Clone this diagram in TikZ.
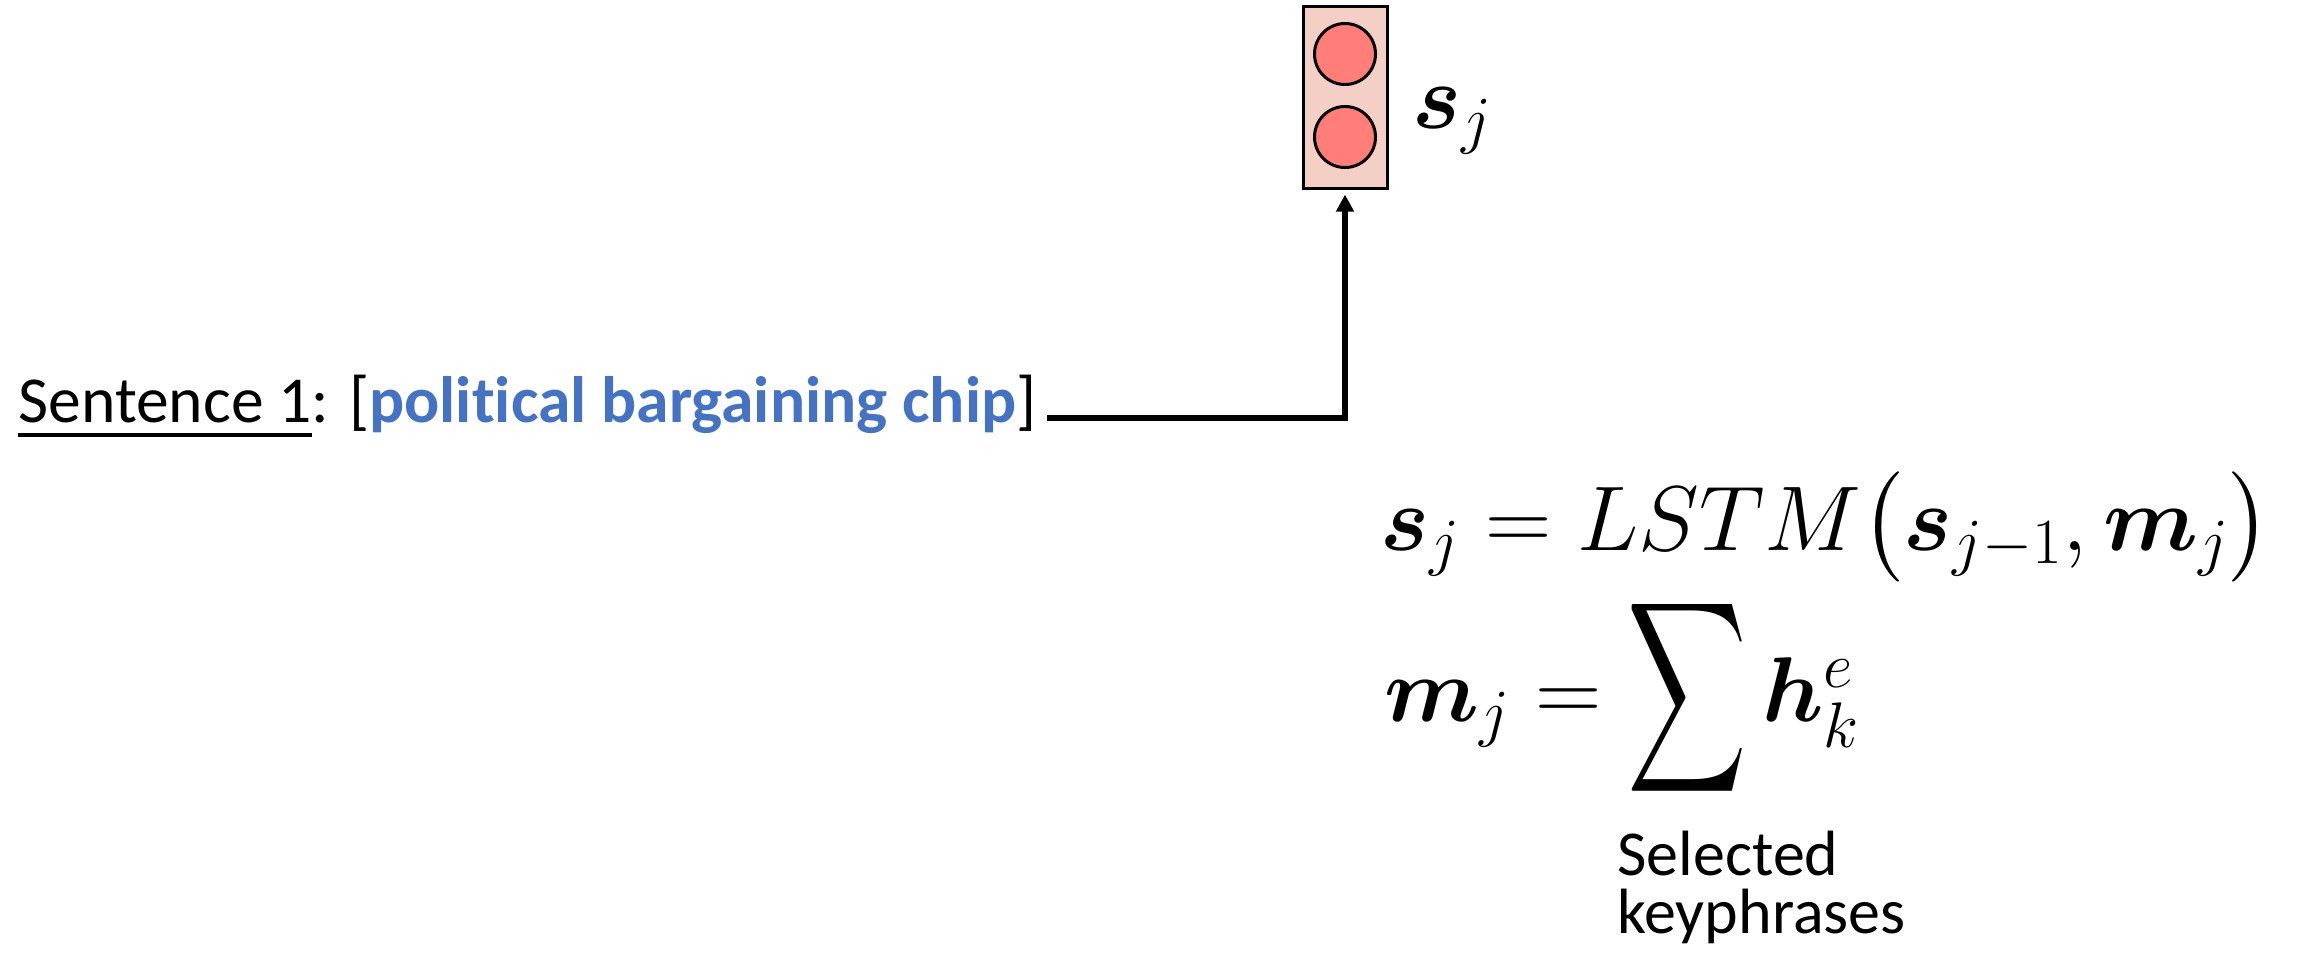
\RequirePackage{fix-cm}
\documentclass[tikz,border=0pt]{standalone}
\usepackage{fontspec}
\usepackage{bm}
\usepackage{graphicx}
\usetikzlibrary{arrows.meta}
\DeclareFontShape{OMX}{cmex}{m}{n}{<-> cmex10}{}
\newfontfamily\calib[Ligatures=NoCommon]{Carlito}
\definecolor{boxfill}{RGB}{243,207,198}
\definecolor{circfill}{RGB}{255,126,121}
\definecolor{kpblue}{RGB}{68,114,196}
\newsavebox\ulbox
\newcommand\myul[1]{\sbox\ulbox{#1}\rlap{\rule[-7.5pt]{\wd\ulbox}{2pt}}\usebox\ulbox}
\newcommand\tallopen[1]{\mathopen{\hbox{$\left#1\vcenter to 56pt{}\right.\nulldelimiterspace=0pt$}}}
\newcommand\tallclose[1]{\mathclose{\hbox{$\left.\vcenter to 56pt{}\right#1\nulldelimiterspace=0pt$}}}
\tikzset{
  vecbox/.style={draw, line width=1.5pt, fill=boxfill, minimum width=42pt, minimum height=91pt, inner sep=0pt},
  unit/.style={circle, draw, line width=1.5pt, fill=circfill, minimum size=30.5pt, inner sep=0pt},
  mathlbl/.style={inner sep=0pt, font=\fontsize{46}{55}\selectfont},
  txt/.style={inner sep=0pt, font=\calib\fontsize{32.8}{38}\selectfont},
  note/.style={inner sep=0pt, align=left, font=\calib\fontsize{32}{29}\selectfont},
  conn/.style={line width=3pt, -{Triangle[length=8.5pt,width=8.5pt]}, shorten >=2.5pt}
}
\begin{document}
\begin{tikzpicture}[x=0.5pt,y=-0.5pt]
\useasboundingbox (0,0) rectangle (2303,964);
\node[vecbox] (box) at (1345,97) {};
\node[unit] (c1) at (1345,54) {};
\node[unit] (c2) at (1345,137) {};
\node[mathlbl, anchor=base west] (sj) at (1412,128) {$\bm{s}_j$};
\node[txt, anchor=base west] (sent) at (18,422) {\myul{Sentence 1}: [\textcolor{kpblue}{\textbf{political bargaining chip}}]};
\coordinate (lstart) at (1047,418);
\draw[conn] (lstart) -| (box.south);
\node[mathlbl, anchor=base west] (eq1) at (1380,550) {$\bm{s}_j = LSTM\tallopen(\bm{s}_{j-1},\bm{m}_j\tallclose)$};
\node[mathlbl, anchor=base west] (eq2) at (1384,721) {$\bm{m}_j = \mathop{\vcenter{\hbox{\scalebox{0.9}[1.45]{$\displaystyle\sum$}}}}\bm{h}^e_k$};
\node[note, anchor=base west] (sel) at (1617,933) {Selected\\keyphrases};
\end{tikzpicture}
\end{document}
